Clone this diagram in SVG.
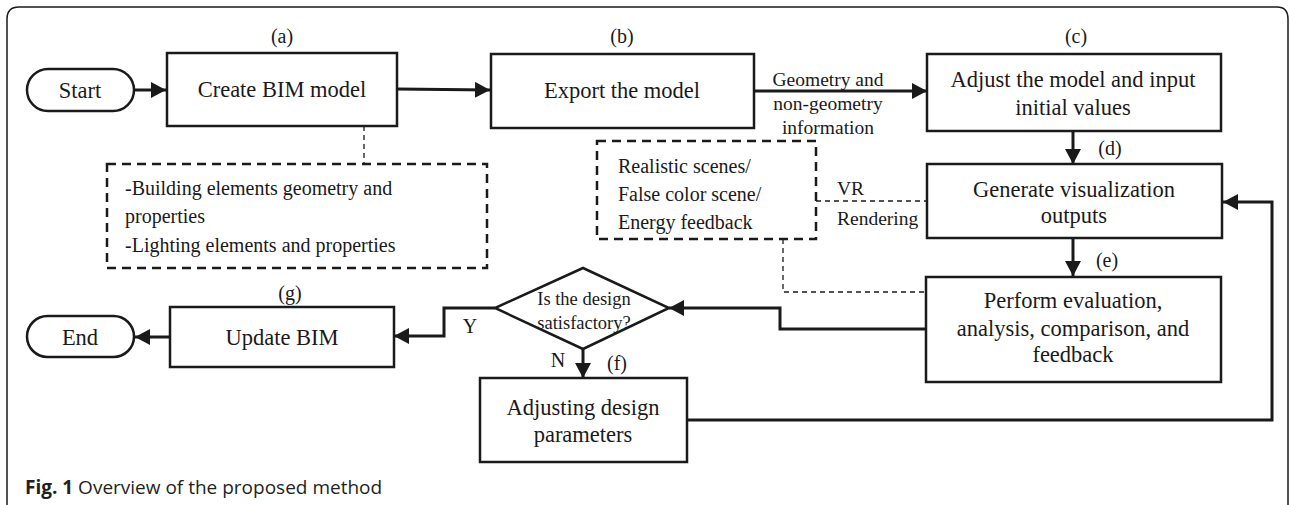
<svg xmlns="http://www.w3.org/2000/svg" width="1290" height="505" viewBox="0 0 1290 505">
<style>
.bg{fill:#fff}
.box{fill:#fff;stroke:#1a1a1a;stroke-width:2.5}
.dbox{fill:#fff;stroke:#1a1a1a;stroke-width:2.5;stroke-dasharray:9 6}
.t{font-family:"Liberation Serif","Times New Roman",serif;fill:#1a1a1a;text-anchor:middle}
.m{font-size:22.5px}
.s{font-size:19.5px}
.l{font-size:20px}
.d{font-size:18.5px}
.tl{text-anchor:start}
.arr{fill:none;stroke:#1a1a1a;stroke-width:3;marker-end:url(#ah)}
.thin{fill:none;stroke:#1a1a1a;stroke-width:1.3;stroke-dasharray:5 4}
.frame{fill:none;stroke:#1a1a1a;stroke-width:1.5}
.cap{font-family:"Open Sans","Noto Sans",sans-serif;font-size:19px;fill:#231f20}
</style>
<defs>
<marker id="ah" markerUnits="userSpaceOnUse" markerWidth="16" markerHeight="16" refX="15" refY="8" orient="auto">
<path d="M0,0 L15,8 L0,16 z" fill="#1a1a1a"/>
</marker>
</defs>
<rect class="bg" x="0" y="0" width="1290" height="505"/>
<path class="frame" d="M7,505 L7,19 Q7,7 19,7 L1277,7 Q1288,7 1288,19 L1288,505"/>

<g id="connectors">
<line class="arr" x1="134" y1="90" x2="166" y2="90"/>
<line class="arr" x1="397" y1="89" x2="490" y2="90"/>
<line class="arr" x1="754" y1="91" x2="927" y2="91"/>
<line class="arr" x1="1073" y1="131" x2="1073" y2="164"/>
<line class="arr" x1="1073" y1="238" x2="1073" y2="276"/>
<polyline class="arr" points="926,329 780,329 780,308 669,308"/>
<polyline class="arr" points="495,308 444,308 444,336 394,336"/>
<line class="arr" x1="170" y1="337" x2="135" y2="337"/>
<line class="arr" x1="583" y1="349" x2="583" y2="378"/>
<polyline class="arr" points="687,420 1272,420 1272,202 1223,202"/>
<line class="thin" x1="364" y1="126" x2="364" y2="164"/>
<line class="thin" x1="816" y1="201" x2="927" y2="201"/>
<polyline class="thin" points="783,239 783,292 926,292"/>
<text class="t s" x="828" y="86">Geometry and</text>
<text class="t s" x="828" y="110">non-geometry</text>
<text class="t s" x="828" y="134">information</text>
<text class="t s tl" x="837" y="195">VR</text>
<text class="t s tl" x="837" y="225">Rendering</text>
<text class="t l" x="470" y="333">Y</text>
<text class="t l" x="558" y="367">N</text>
</g>

<g id="start">
<rect class="box" x="27" y="69" width="107" height="42" rx="21"/>
<text class="t m" x="80" y="98">Start</text>
</g>

<g id="create">
<text class="t l" x="282" y="43">(a)</text>
<rect class="box" x="167" y="53" width="230" height="73"/>
<text class="t m" x="282" y="97">Create BIM model</text>
</g>

<g id="export">
<text class="t l" x="622" y="43">(b)</text>
<rect class="box" x="491" y="54" width="263" height="74"/>
<text class="t m" x="622" y="98">Export the model</text>
</g>

<g id="adjust">
<text class="t l" x="1076" y="43">(c)</text>
<rect class="box" x="927" y="54" width="294" height="77"/>
<text class="t m" x="1073" y="87">Adjust the model and input</text>
<text class="t m" x="1073" y="115">initial values</text>
</g>

<g id="generate">
<text class="t l" x="1110" y="155">(d)</text>
<rect class="box" x="927" y="164" width="295" height="74"/>
<text class="t m" x="1074" y="197">Generate visualization</text>
<text class="t m" x="1074" y="223">outputs</text>
</g>

<g id="perform">
<text class="t l" x="1107" y="267">(e)</text>
<rect class="box" x="926" y="277" width="295" height="105"/>
<text class="t m" x="1073" y="308">Perform evaluation,</text>
<text class="t m" x="1073" y="336">analysis, comparison, and</text>
<text class="t m" x="1073" y="362">feedback</text>
</g>

<g id="bim-info">
<rect class="dbox" x="107" y="164" width="380" height="104"/>
<text class="t l tl" x="125" y="195">-Building elements geometry and</text>
<text class="t l tl" x="125" y="223">properties</text>
<text class="t l tl" x="125" y="252">-Lighting elements and properties</text>
</g>

<g id="outputs-info">
<rect class="dbox" x="597" y="141" width="219" height="98"/>
<text class="t l tl" x="618" y="173">Realistic scenes/</text>
<text class="t l tl" x="618" y="201">False color scene/</text>
<text class="t l tl" x="618" y="229">Energy feedback</text>
</g>

<g id="decision">
<polygon class="box" points="583,268 669,308 583,349 495,308"/>
<text class="t d" x="584" y="305">Is the design</text>
<text class="t d" x="584" y="329">satisfactory?</text>
</g>

<g id="update">
<text class="t l" x="290" y="300">(g)</text>
<rect class="box" x="170" y="307" width="224" height="60"/>
<text class="t m" x="282" y="345">Update BIM</text>
</g>

<g id="end">
<rect class="box" x="27" y="316" width="107" height="41" rx="20.5"/>
<text class="t m" x="80" y="345">End</text>
</g>

<g id="adjusting">
<text class="t l" x="617" y="370">(f)</text>
<rect class="box" x="480" y="378" width="207" height="84"/>
<text class="t m" x="583" y="415">Adjusting design</text>
<text class="t m" x="583" y="442">parameters</text>
</g>

<g id="caption">
<text class="cap" x="25" y="494"><tspan font-weight="bold">Fig. 1</tspan> Overview of the proposed method</text>
</g>
</svg>
